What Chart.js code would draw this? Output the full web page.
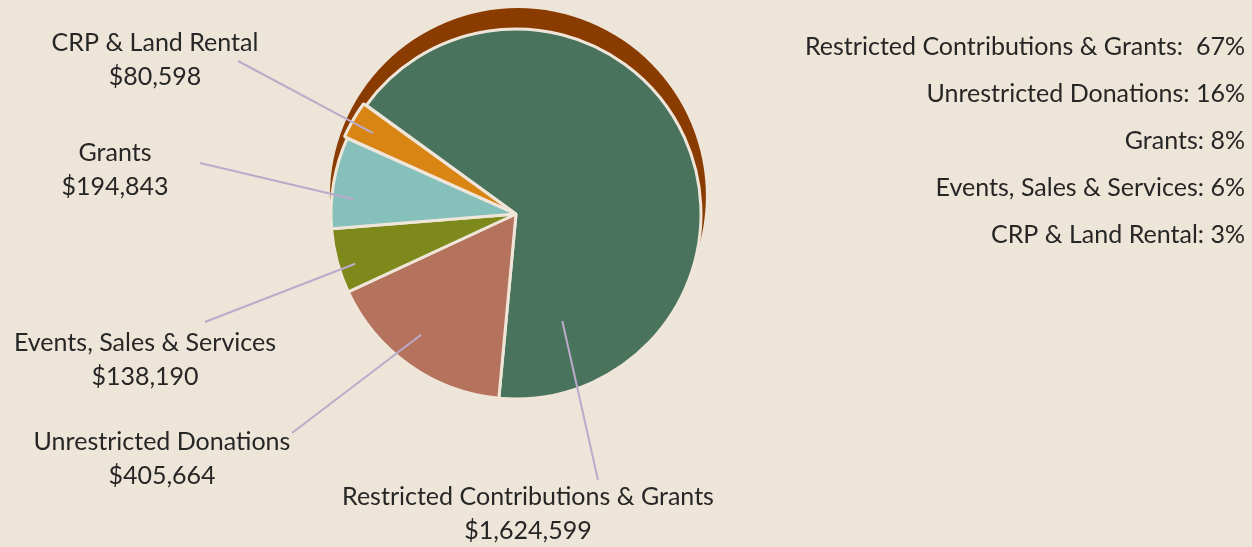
<!DOCTYPE html>
<html>
<head>
<meta charset="utf-8">
<script src="https://cdn.jsdelivr.net/npm/chart.js@4.4.1/dist/chart.umd.min.js"></script>
<style>
  html, body { margin: 0; padding: 0; background: #eee5d9; }
  #wrap { position: relative; width: 1252px; height: 547px; }
</style>
</head>
<body>
<div id="wrap"><canvas id="pie" width="1252" height="547"></canvas></div>
<script>
// ---- data ----
const categories = ['Restricted Contributions & Grants', 'Unrestricted Donations', 'Events, Sales & Services', 'Grants', 'CRP & Land Rental'];
const amounts    = [1624599, 405664, 138190, 194843, 80598];
const percents   = [67, 16, 6, 8, 3];
const sliceColors = ['#4a735d', '#b5735e', '#7d8a1b', '#86c0bb', '#d98514'];
const sliceOffsets = [0, 0, 0, 0, 7];
const legendOrder = [0, 1, 3, 2, 4];

// label placement: text centre, outer end of leader, where the leader lands inside the slice
const labelLayout = [
    { tx: 528, ty: 497, lx: 598, ly: 480, f: 0.88, k: 0.63 },
    { tx: 162, ty: 442, lx: 292, ly: 433, f: 0.55, k: 0.83 },
    { tx: 145, ty: 343, lx: 205, ly: 322, f: 0.38, k: 0.91 },
    { tx: 115, ty: 153, lx: 200, ly: 163, f: 0.34, k: 0.88 },
    { tx: 155, ty: 43,  lx: 238, ly: 61,  f: 0.45, k: 0.85 }
];

const FONT = "Lato, 'Open Sans', sans-serif";
const TEXT = '#262626';
const money = v => '$' + v.toLocaleString('en-US');

let fontPx = 24;
const fitFont = (ctx) => {
    ctx.font = `20px ${FONT}`;
    const w = ctx.measureText('Restricted Contributions & Grants').width;
    fontPx = Math.min(27, 20 * 372 / w);
};

// brown rim behind the pie (shifted up, slightly larger)
const rimPlugin = {
    id: 'rim',
    beforeDatasetsDraw(chart) {
        const arc = chart.getDatasetMeta(0).data[0];
        if (!arc) return;
        const ctx = chart.ctx;
        ctx.save();
        ctx.fillStyle = '#8a3b00';
        ctx.beginPath();
        ctx.arc(arc.x + 1.9, arc.y - 17.9, arc.outerRadius + 3, 0, Math.PI * 2);
        ctx.fill();
        ctx.restore();
    }
};

// leader lines, slice labels and right-hand list
const textPlugin = {
    id: 'texts',
    afterDatasetsDraw(chart) {
        const ctx = chart.ctx;
        const arcs = chart.getDatasetMeta(0).data;
        fitFont(ctx);
        ctx.save();

        ctx.strokeStyle = '#bcaaca';
        ctx.lineWidth = 2;
        labelLayout.forEach((L, i) => {
            const a = arcs[i];
            const ang = a.startAngle + L.f * (a.endAngle - a.startAngle);
            const mid = (a.startAngle + a.endAngle) / 2;
            const off = sliceOffsets[i];
            const px = a.x + Math.cos(ang) * a.outerRadius * L.k + Math.cos(mid) * off;
            const py = a.y + Math.sin(ang) * a.outerRadius * L.k + Math.sin(mid) * off;
            ctx.beginPath();
            ctx.moveTo(L.lx, L.ly);
            ctx.lineTo(px, py);
            ctx.stroke();
        });

        ctx.fillStyle = TEXT;
        ctx.font = `${fontPx}px ${FONT}`;
        ctx.textBaseline = 'middle';
        ctx.textAlign = 'center';
        labelLayout.forEach((L, i) => {
            ctx.fillText(categories[i], L.tx, L.ty);
            ctx.fillText(money(amounts[i]), L.tx, L.ty + 34);
        });

        ctx.textAlign = 'right';
        legendOrder.forEach((idx, row) => {
            const sep = idx === 0 ? ':  ' : ': ';
            ctx.fillText(categories[idx] + sep + percents[idx] + '%', 1245, 47 + row * 47);
        });
        ctx.restore();
    }
};

new Chart(document.getElementById('pie'), {
    type: 'pie',
    data: {
        labels: categories,
        datasets: [{
            data: amounts,
            backgroundColor: sliceColors,
            borderColor: '#efe6d9',
            borderWidth: 3,
            offset: sliceOffsets,
            hoverOffset: 0
        }]
    },
    options: {
        responsive: false,
        animation: false,
        rotation: -54,
        layout: { padding: { left: 326, right: 546, top: 24, bottom: 143 } },
        plugins: { legend: { display: false }, tooltip: { enabled: false } }
    },
    plugins: [rimPlugin, textPlugin]
});
</script>
</body>
</html>
